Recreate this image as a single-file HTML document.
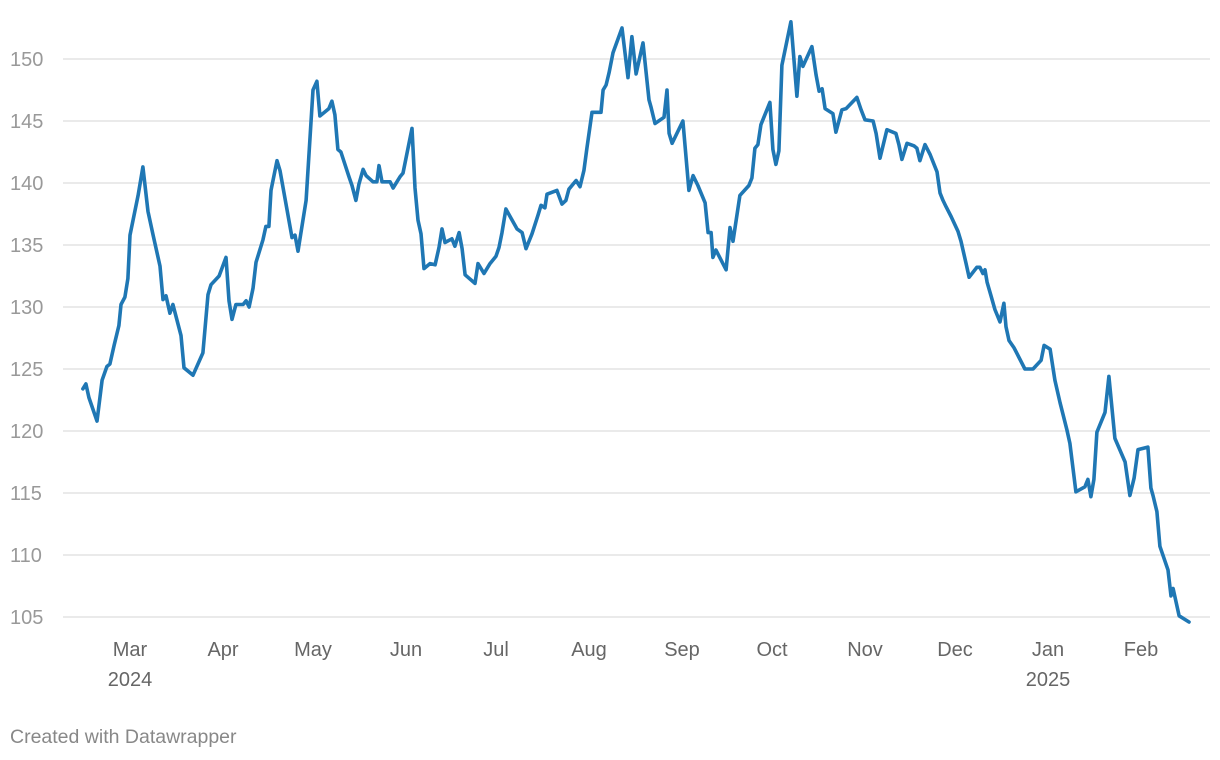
<!DOCTYPE html>
<html><head><meta charset="utf-8"><style>
html,body{margin:0;padding:0;background:#fff;}
svg{display:block;font-family:"Liberation Sans",Arial,sans-serif;}
</style></head><body>
<svg id="chart" width="1220" height="760" viewBox="0 0 1220 760">
<g id="grid"></g>
<g id="yticks"></g>
<g id="xticks"></g>
<path id="line" fill="none" stroke="#1f77b4" stroke-width="3.6" stroke-linejoin="round" stroke-linecap="round"></path>
<text x="10" y="743" font-size="19.5" fill="#888">Created with Datawrapper</text>
</svg>
<script>
// day offsets from 2024-03-01
const days=[-15.7,-14.7,-13.7,-11,-9.3,-7.7,-6.7,-5.3,-3.7,-3,-1.7,-0.7,0,2.7,4.3,6,7.7,10,11,12,13.3,14.3,17,18,21,24.3,26,27,29.7,32,33,34,35.3,37.7,38.7,39.7,41,42,44.3,45.3,46.3,47,49,50,54,55,56,58.7,61,62.3,63.3,66.3,67.3,68.3,69.3,70.3,73,74,75.3,76.3,77.7,78.7,81,82.3,83,84,86.7,87.7,90,91,94,95,96,97,98,100,101.7,103,104,105,107.3,108.3,109.7,110.7,111.7,115,116,118,120,122,123,124,125.3,129,130.7,132,134,136,137,138.3,139,142.3,144,145.3,146.3,148.7,150,151.3,152.3,154,157,157.7,158.7,159.7,161,164,166,167.3,168.7,171,173,173.7,175,178,179,179.7,180.7,184.3,186.3,187.7,189.3,191.7,192.7,193.7,194.3,195.3,198.7,200,201,203.3,206.3,207.3,208.3,209.3,210.3,213.3,214.3,215.3,216.3,217.3,220.3,222.3,223.3,224.3,227.3,228.7,229.7,230.7,231.7,234.3,235.3,237.3,238.7,240.7,242.3,243.7,245,247.7,248.7,250,252.3,255.3,256.3,257.3,259,261.3,262.3,263.3,265,266.7,269,270,271,272,273.7,276,277,278.7,279.7,282.3,283.3,284.3,285,285.7,287,288.3,290,291.3,292,293,294.7,298.3,301,303.7,304.7,306.7,308.3,310,312.3,313.3,315.3,318.3,319.3,320.3,321.3,322.3,325,326.3,328.3,331.7,333.3,334.7,336,339.3,340.3,341,342.3,343.3,346,347,347.7,349.7,353];
const values=[123.4,123.8,122.7,120.8,124.1,125.2,125.4,126.9,128.5,130.2,130.8,132.3,135.8,139.0,141.3,137.7,135.8,133.3,130.6,130.9,129.5,130.2,127.7,125.1,124.5,126.3,131.0,131.8,132.5,134.0,130.5,129.0,130.2,130.2,130.5,130.0,131.5,133.6,135.4,136.5,136.5,139.4,141.8,141.0,135.6,135.8,134.5,138.6,147.5,148.2,145.4,146.0,146.6,145.5,142.7,142.5,140.5,139.8,138.6,139.9,141.1,140.6,140.1,140.1,141.4,140.1,140.1,139.6,140.5,140.8,144.4,139.6,137.0,135.9,133.1,133.5,133.4,134.8,136.3,135.2,135.5,134.9,136.0,134.7,132.6,131.9,133.5,132.7,133.5,134.1,134.8,136.0,137.9,136.3,136.0,134.7,135.9,137.4,138.2,138.0,139.1,139.4,138.3,138.6,139.5,140.2,139.7,141.0,142.8,145.7,145.7,147.5,147.9,148.9,150.5,152.5,148.5,151.8,148.8,151.3,146.7,146.1,144.8,145.3,147.5,144.0,143.2,145.0,139.4,140.6,139.8,138.4,136.0,136.0,134.0,134.6,133.0,136.4,135.3,139.0,139.8,140.4,142.8,143.1,144.7,146.5,142.7,141.5,142.6,149.5,153.0,147.0,150.2,149.4,151.0,148.7,147.4,147.6,146.0,145.6,144.1,145.9,146.0,146.5,146.9,145.9,145.1,145.0,144.0,142.0,144.3,144.0,143.1,141.9,143.2,143.0,142.8,141.8,143.1,142.3,140.9,139.2,138.6,138.1,137.3,136.1,135.3,133.5,132.4,133.2,133.2,132.7,133.0,132.0,130.9,129.8,128.8,130.3,128.4,127.3,126.7,125.0,125.0,125.7,126.9,126.6,124.1,122.3,120.1,119.0,115.1,115.5,116.1,114.7,116.1,119.9,121.5,124.4,119.4,117.5,114.8,116.2,118.5,118.7,115.4,114.8,113.5,110.7,108.8,106.7,107.3,105.1,104.6];
const yTicks=[105,110,115,120,125,130,135,140,145,150];
const monthDays=[0,31,61,92,122,153,184,214,245,275,306,337];
const monthLabels=["Mar","Apr","May","Jun","Jul","Aug","Sep","Oct","Nov","Dec","Jan","Feb"];
const yearLabels={"0":"2024","306":"2025"};

const X=d=>130+d*3;
const Y=v=>59+(150-v)*12.4;
const NS="http://www.w3.org/2000/svg";
const grid=document.getElementById('grid'),yt=document.getElementById('yticks'),xt=document.getElementById('xticks');
yTicks.forEach(v=>{
  const l=document.createElementNS(NS,'line');
  l.setAttribute('x1',63);l.setAttribute('x2',1210);l.setAttribute('y1',Y(v));l.setAttribute('y2',Y(v));
  l.setAttribute('stroke','#e3e3e3');l.setAttribute('stroke-width','1.5');
  
  
  grid.appendChild(l);
  const t=document.createElementNS(NS,'text');
  t.setAttribute('x',10);t.setAttribute('y',Y(v)+7);t.setAttribute('font-size','20');t.setAttribute('fill','#999');
  t.textContent=v;
  
  
  yt.appendChild(t);
});
monthDays.forEach((d,i)=>{
  const t=document.createElementNS(NS,'text');
  t.setAttribute('x',X(d));t.setAttribute('y',656);t.setAttribute('font-size','20');t.setAttribute('fill','#666');t.setAttribute('text-anchor','middle');
  t.textContent=monthLabels[i];
  
  
  xt.appendChild(t);
  if(yearLabels[d]){
    const y=document.createElementNS(NS,'text');
    y.setAttribute('x',X(d));y.setAttribute('y',686);y.setAttribute('font-size','20');y.setAttribute('fill','#666');y.setAttribute('text-anchor','middle');
    y.textContent=yearLabels[d];
    
    
    xt.appendChild(y);
  }
});
document.getElementById('line').setAttribute('d',days.map((d,i)=>(i?'L':'M')+X(d).toFixed(1)+','+Y(values[i]).toFixed(1)).join(''));
</script>
</body></html>
